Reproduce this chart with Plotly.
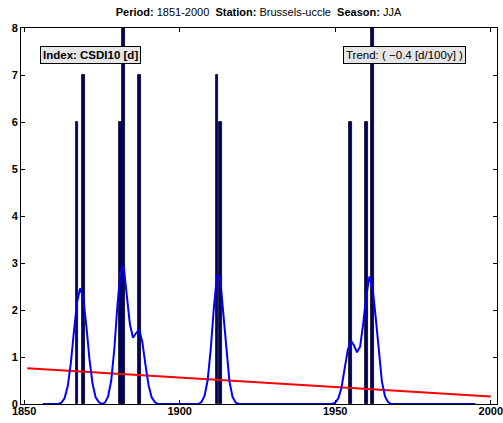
import plotly.graph_objects as go

# ---- data ----
bar_years = [1867, 1869, 1881, 1882, 1887, 1912, 1913, 1955, 1960, 1962]
bar_values = [6, 7, 6, 8, 7, 7, 6, 6, 6, 8]

smooth_start = 1856
smooth_values = [
    0, 0, 0, 0, 0, 0,                                                     # 1856-1861
    0.03, 0.12, 0.37, 0.86, 1.53, 2.16, 2.46, 2.26, 1.66, 0.96, 0.43, 0.14, 0.04, 0,   # 1862-1875
    0.03, 0.16, 0.50, 1.17, 2.10, 2.83, 2.93, 2.37, 1.70, 1.41, 1.51, 1.58, 1.32,
    0.84, 0.40, 0.14, 0.04,                                               # 1876-1892
    0, 0, 0, 0, 0, 0, 0, 0, 0, 0, 0, 0, 0, 0,                             # 1893-1906
    0.04, 0.17, 0.51, 1.18, 2.05, 2.74, 2.68, 1.98, 1.12, 0.48, 0.15, 0.03,   # 1907-1918
    0, 0, 0, 0, 0, 0, 0, 0, 0, 0, 0, 0, 0, 0, 0, 0, 0, 0, 0, 0,
    0, 0, 0, 0, 0, 0, 0, 0, 0, 0, 0,                                      # 1919-1949
    0.03, 0.12, 0.34, 0.72, 1.14, 1.35, 1.25, 1.10, 1.22, 1.71, 2.31, 2.71,
    2.48, 1.85, 1.08, 0.48, 0.16, 0.04,                                   # 1950-1967
    0, 0, 0, 0, 0, 0, 0, 0, 0, 0, 0, 0, 0, 0, 0, 0, 0, 0, 0, 0,
    0, 0, 0, 0, 0, 0, 0, 0,                                               # 1968-1995
]
smooth_years = list(range(smooth_start, smooth_start + len(smooth_values)))

trend_years = [1851, 2000]
trend_values = [0.76, 0.16]

x_ticks = [1850, 1900, 1950, 2000]
y_ticks = [0, 1, 2, 3, 4, 5, 6, 7, 8]

FONT = "Liberation Sans, Arial, Helvetica, sans-serif"

fig = go.Figure()
fig.add_trace(go.Scatter(x=trend_years, y=trend_values, mode="lines",
                         line=dict(color="#FF0000", width=2), showlegend=False))
fig.add_trace(go.Bar(x=bar_years, y=bar_values, width=0.95,
                     marker=dict(color="#00006A", line=dict(color="black", width=0.8)),
                     showlegend=False))
fig.add_trace(go.Scatter(x=smooth_years, y=smooth_values, mode="lines",
                         line=dict(color="#0000FF", width=2), showlegend=False))

axis_common = dict(showline=True, linecolor="black", linewidth=1, mirror="ticks",
                   ticks="inside", ticklen=4, tickcolor="black", tickwidth=1,
                   showgrid=False, zeroline=False, automargin=False,
                   ticklabeloverflow="allow",
                   tickfont=dict(family=FONT, size=11, color="black", weight="bold"))

fig.update_layout(
    width=503, height=423,
    margin=dict(l=21, r=6, t=28, b=19),
    plot_bgcolor="white", paper_bgcolor="white",
    bargap=0,
    title=dict(
        text="<b>Period:</b> 1851-2000\u00a0\u00a0<b>Station:</b> Brussels-uccle\u00a0\u00a0<b>Season:</b> JJA",
        x=0.514, xanchor="center", y=0.972, yanchor="middle", yref="container",
        font=dict(family=FONT, size=11, color="black")),
    xaxis=dict(range=[1849, 2002], tickvals=x_ticks, ticktext=[str(t) for t in x_ticks],
               ticklabelstandoff=-3, **axis_common),
    yaxis=dict(range=[0, 8], tickvals=y_ticks, ticktext=[str(t) for t in y_ticks],
               **axis_common),
    annotations=[
        dict(text="<b>Index: CSDI10 [d]</b>", xref="paper", yref="paper",
             x=0.040, y=0.928, xanchor="left", yanchor="middle", showarrow=False,
             font=dict(family=FONT, size=11.5, color="black"),
             bgcolor="#E6E6E6", bordercolor="black", borderwidth=1, borderpad=2),
        dict(text="Trend: ( \u22120.4 [d/100y] )", xref="paper", yref="paper",
             x=0.676, y=0.928, xanchor="left", yanchor="middle", showarrow=False,
             font=dict(family=FONT, size=11.5, color="black"),
             bgcolor="#E6E6E6", bordercolor="black", borderwidth=1, borderpad=2),
    ],
)

fig.write_html("out.html", config={"displayModeBar": False},
               post_script="document.body.style.margin='0';")
